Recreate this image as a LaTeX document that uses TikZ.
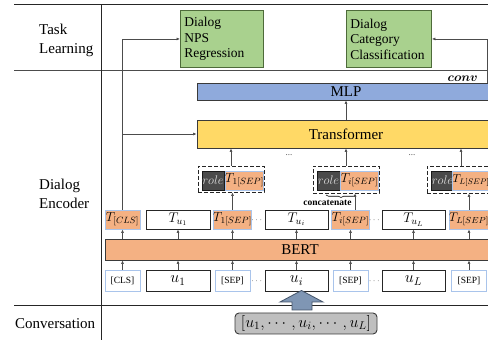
\RequirePackage{fix-cm}
\documentclass[tikz,border=0pt]{standalone}
\usepackage{fontspec}
\setmainfont{Liberation Serif}
\usepackage{amsmath}
\usetikzlibrary{arrows.meta,decorations.pathreplacing,calc}
\definecolor{grnf}{HTML}{A9D18E}
\definecolor{grnd}{HTML}{4E6B3A}
\definecolor{bluef}{HTML}{8FAADC}
\definecolor{yelf}{HTML}{FFD966}
\definecolor{orgf}{HTML}{F4B183}
\definecolor{bluelt}{HTML}{A9C4EB}
\definecolor{darkb}{HTML}{3A3A3A}
\definecolor{rolef}{HTML}{4A4A4A}
\definecolor{convf}{HTML}{BFBFBF}
\definecolor{arrf}{HTML}{7F96B4}
\definecolor{arrd}{HTML}{44546A}
\tikzset{
  frameline/.style={line width=1pt, draw=black!85},
  conn/.style={draw=black!70, line width=0.6pt, -{Latex[length=3.5pt,width=3pt]}},
  bar/.style={draw=darkb, line width=0.9pt, inner sep=0pt, font=\fontsize{15}{18}\selectfont},
  obox/.style={fill=orgf, draw=bluelt, line width=0.9pt, inner sep=0pt, minimum height=19pt, font=\fontsize{13}{15}\selectfont},
  wbox/.style={fill=white, draw=black!85, line width=0.9pt, inner sep=0pt, font=\fontsize{14}{16}\selectfont},
  ibox/.style={fill=white, draw=bluelt, line width=0.9pt, inner sep=0pt, minimum height=21pt, font=\fontsize{9.5}{11}\selectfont},
  rbox/.style={fill=rolef, draw=black!90, line width=0.8pt, inner sep=0pt, minimum height=19pt, text=black!15, font=\fontsize{12.5}{14}\selectfont},
  grp/.style={draw=black!85, line width=0.9pt, dash pattern=on 4pt off 2pt, inner sep=0pt},
  gbox/.style={fill=grnf, draw=grnd, line width=0.9pt, align=left, inner sep=4pt, minimum height=57pt, anchor=north west, font=\fontsize{13.5}{15.5}\selectfont},
  lbl/.style={font=\fontsize{15}{19}\selectfont, align=left, inner sep=0pt},
  dts/.style={font=\fontsize{9}{10}\selectfont, inner sep=0pt, text=black!70},
  cnvlbl/.style={font=\fontsize{12.5}{14}\selectfont, inner sep=0pt, anchor=east}
}
\begin{document}
\begin{tikzpicture}[x=1pt,y=-1pt]
\useasboundingbox (0,0) rectangle (488,344);
% frame
\draw[frameline] (14,5) -- (490,5);
\draw[line width=1.6pt, draw=black!70] (14,70.5) -- (490,70.5);
\draw[frameline] (14,306) -- (490,306);
\draw[frameline] (101,5) -- (101,340);
% left labels
\node[lbl, anchor=west] (tl) at (39,40) {Task\\Learning};
\node[lbl, anchor=west] (de) at (39,194) {Dialog\\Encoder};
\node[lbl, anchor=west] (cv) at (15,323.5) {Conversation};
% green task boxes
\node[gbox, text width=75pt] (nps) at (180,10) {Dialog\\NPS\\Regression};
\node[gbox, text width=77pt] (cat) at (346,10) {Dialog\\Category\\Classification};
% MLP and Transformer
\node[bar, fill=bluef, minimum width=298pt, minimum height=17pt] (mlp) at (346,91.5) {MLP};
\node[bar, fill=yelf, minimum width=298pt, minimum height=28pt] (trf) at (346,134) {Transformer};
\node[bar, fill=orgf, minimum width=390pt, minimum height=21pt] (bert) at (300,249.5) {BERT};
% role groups
\node[grp, minimum width=66pt, minimum height=26pt] (g1) at (231,179) {};
\node[rbox, minimum width=22pt] (r1) at (213,180.5) {$role$};
\node[obox, minimum width=35pt] (s1) at (244.5,180.5) {$T_{1[SEP]}$};
\node[grp, minimum width=66pt, minimum height=27pt] (gi) at (346,179.5) {};
\node[rbox, minimum width=23pt] (ri) at (328.5,180.5) {$role$};
\node[obox, minimum width=35pt] (si) at (359.5,180.5) {$T_{i[SEP]}$};
\node[grp, minimum width=68pt, minimum height=27pt] (gL) at (461,179.5) {};
\node[rbox, minimum width=23pt] (rL) at (442.5,180.5) {$role$};
\node[obox, minimum width=31pt, font=\fontsize{11.5}{13}\selectfont] (sL) at (471,180.5) {$T_{L[SEP]}$};
\node[dts] (d1) at (289,155) {...};
\node[dts] (d2) at (412,155) {...};
\draw[decorate, decoration={brace, mirror, amplitude=2.5pt}, line width=0.6pt] (326,195) -- (356,195);
\node[font=\bfseries\fontsize{9.5}{11}\selectfont, inner sep=0pt] (cc) at (327.5,202.5) {concatenate};
% T row
\node[obox, minimum width=35pt] (tcls) at (122.5,219.5) {$T_{[CLS]}$};
\node[wbox, minimum width=64pt, minimum height=19pt] (tu1) at (178,219.5) {$T_{u_1}$};
\node[obox, minimum width=35pt] (t1s) at (232.5,219.5) {$T_{1[SEP]}$};
\node[dts] (e1) at (257.5,220) {$\cdots$};
\node[wbox, minimum width=63pt, minimum height=19pt] (tui) at (296.5,219.5) {$T_{u_i}$};
\node[obox, minimum width=35pt] (tis) at (350.5,219.5) {$T_{i[SEP]}$};
\node[dts] (e2) at (375,220) {$\cdots$};
\node[wbox, minimum width=63pt, minimum height=19pt] (tuL) at (413.5,219.5) {$T_{u_L}$};
\node[obox, minimum width=35pt, font=\fontsize{12.5}{14}\selectfont] (tLs) at (469,219.5) {$T_{L[SEP]}$};
% input row
\node[ibox, minimum width=35pt] (icls) at (122.5,280.5) {[CLS]};
\node[wbox, minimum width=64pt, minimum height=21pt, font=\fontsize{16}{18}\selectfont] (u1) at (178,280.5) {$u_1$};
\node[ibox, minimum width=35pt] (is1) at (232.5,280.5) {[SEP]};
\node[dts] (f1) at (257.5,281) {$\cdots$};
\node[wbox, minimum width=63pt, minimum height=21pt, font=\fontsize{16}{18}\selectfont] (ui) at (296.5,280.5) {$u_i$};
\node[ibox, minimum width=35pt] (isi) at (350.5,280.5) {[SEP]};
\node[dts] (f2) at (375,281) {$\cdots$};
\node[wbox, minimum width=63pt, minimum height=21pt, font=\fontsize{16}{18}\selectfont] (uL) at (413.5,280.5) {$u_L$};
\node[ibox, minimum width=35pt] (isL) at (469,280.5) {[SEP]};
% arrows input -> BERT -> T
\foreach \a in {icls,u1,is1,ui,isi,uL,isL}{
  \draw[conn] (\a.north) -- (\a.north |- bert.south);
}
\foreach \a in {tcls,tu1,t1s,tui,tis,tuL,tLs}{
  \draw[conn] (\a.south |- bert.north) -- (\a.south);
}
% T sep -> groups
\draw[conn] (t1s.north) -- (t1s.north |- g1.south);
\coordinate (tisa) at ($(tis.north)+(4.5,0)$);
\draw[conn] (tisa) -- (tisa |- gi.south);
\draw[conn] (tLs.north) -- (tLs.north |- gL.south);
% groups -> transformer
\draw[conn] (g1.north) -- (g1.north |- trf.south);
\draw[conn] (gi.north) -- (gi.north |- trf.south);
\draw[conn] (gL.north) -- (gL.north |- trf.south);
% transformer -> MLP
\draw[conn] (trf.north) -- (trf.north |- mlp.south);
% CLS path
\coordinate (cb) at (tcls.north |- trf.west);
\draw[conn] (tcls.north) |- (nps.west);
\draw[conn] (cb) -- (trf.west);
% conv path
\coordinate (cvs) at (487,83);
\draw[conn] (cvs) |- (cat.east);
\node[cnvlbl] (cvl) at (478,79) {$\boldsymbol{conv}$};
% conversation box and block arrow
\node[draw=darkb, fill=convf, line width=0.9pt, rounded corners=4pt, minimum width=142pt, minimum height=21pt, inner sep=0pt, font=\fontsize{16}{18}\selectfont] (conv) at (306,323.5) {$[u_1, \cdots, u_i, \cdots, u_L]$};
\draw[fill=arrf, draw=arrd, line width=0.8pt] (292,310) -- (292,302) -- (280,302) -- (301.5,290.5) -- (323,302) -- (312,302) -- (312,310) -- cycle;
\end{tikzpicture}
\end{document}
